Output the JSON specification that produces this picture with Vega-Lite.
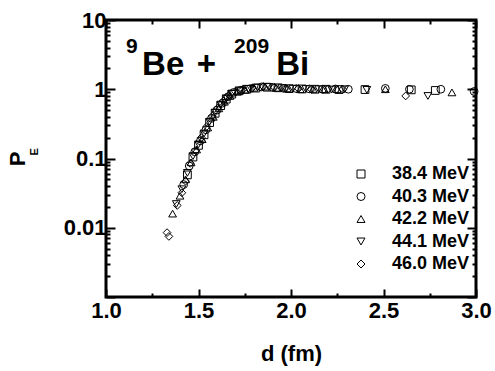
{
  "$schema": "https://vega.github.io/schema/vega-lite/v6.json",
  "width": 370,
  "height": 277,
  "autosize": "none",
  "padding": {"left": 106, "top": 20, "right": 19, "bottom": 74},
  "background": "white",
  "config": {
    "view": {"stroke": "black", "strokeWidth": 3},
    "font": "Liberation Sans",
    "text": {"font": "Liberation Sans", "fontWeight": "bold", "color": "black"},
    "axis": {"domain": false, "grid": false, "ticks": true, "tickColor": "black", "tickWidth": 2, "tickOpacity": 1}
  },
  "datasets": {
    "pe": [
      {"E": "38.4 MeV", "d": 1.44, "P": 0.058},
      {"E": "38.4 MeV", "d": 1.47, "P": 0.105},
      {"E": "38.4 MeV", "d": 1.50, "P": 0.155},
      {"E": "38.4 MeV", "d": 1.53, "P": 0.22},
      {"E": "38.4 MeV", "d": 1.56, "P": 0.33},
      {"E": "38.4 MeV", "d": 1.59, "P": 0.45},
      {"E": "38.4 MeV", "d": 1.62, "P": 0.58},
      {"E": "38.4 MeV", "d": 1.65, "P": 0.72},
      {"E": "38.4 MeV", "d": 1.68, "P": 0.85},
      {"E": "38.4 MeV", "d": 1.72, "P": 0.95},
      {"E": "38.4 MeV", "d": 1.76, "P": 1.0},
      {"E": "38.4 MeV", "d": 1.81, "P": 1.04},
      {"E": "38.4 MeV", "d": 1.87, "P": 1.07},
      {"E": "38.4 MeV", "d": 1.93, "P": 1.05},
      {"E": "38.4 MeV", "d": 1.99, "P": 1.02},
      {"E": "38.4 MeV", "d": 2.06, "P": 1.01},
      {"E": "38.4 MeV", "d": 2.13, "P": 1.0},
      {"E": "38.4 MeV", "d": 2.19, "P": 1.0},
      {"E": "38.4 MeV", "d": 2.26, "P": 0.99},
      {"E": "38.4 MeV", "d": 2.40, "P": 0.99},
      {"E": "38.4 MeV", "d": 2.65, "P": 0.98},
      {"E": "38.4 MeV", "d": 2.78, "P": 0.96},
      {"E": "40.3 MeV", "d": 1.42, "P": 0.042},
      {"E": "40.3 MeV", "d": 1.45, "P": 0.078},
      {"E": "40.3 MeV", "d": 1.48, "P": 0.125},
      {"E": "40.3 MeV", "d": 1.51, "P": 0.18},
      {"E": "40.3 MeV", "d": 1.54, "P": 0.26},
      {"E": "40.3 MeV", "d": 1.57, "P": 0.38},
      {"E": "40.3 MeV", "d": 1.60, "P": 0.50},
      {"E": "40.3 MeV", "d": 1.63, "P": 0.63},
      {"E": "40.3 MeV", "d": 1.66, "P": 0.78},
      {"E": "40.3 MeV", "d": 1.69, "P": 0.90},
      {"E": "40.3 MeV", "d": 1.73, "P": 0.97},
      {"E": "40.3 MeV", "d": 1.78, "P": 1.02},
      {"E": "40.3 MeV", "d": 1.84, "P": 1.08},
      {"E": "40.3 MeV", "d": 1.90, "P": 1.06},
      {"E": "40.3 MeV", "d": 1.96, "P": 1.03},
      {"E": "40.3 MeV", "d": 2.03, "P": 1.02},
      {"E": "40.3 MeV", "d": 2.10, "P": 1.01},
      {"E": "40.3 MeV", "d": 2.17, "P": 1.0},
      {"E": "40.3 MeV", "d": 2.24, "P": 1.01},
      {"E": "40.3 MeV", "d": 2.31, "P": 1.0},
      {"E": "40.3 MeV", "d": 2.51, "P": 1.03},
      {"E": "40.3 MeV", "d": 2.64, "P": 1.0},
      {"E": "40.3 MeV", "d": 2.81, "P": 1.0},
      {"E": "40.3 MeV", "d": 2.99, "P": 0.93},
      {"E": "42.2 MeV", "d": 1.36, "P": 0.016},
      {"E": "42.2 MeV", "d": 1.40, "P": 0.029},
      {"E": "42.2 MeV", "d": 1.43, "P": 0.050},
      {"E": "42.2 MeV", "d": 1.46, "P": 0.088},
      {"E": "42.2 MeV", "d": 1.49, "P": 0.135},
      {"E": "42.2 MeV", "d": 1.52, "P": 0.19},
      {"E": "42.2 MeV", "d": 1.55, "P": 0.28},
      {"E": "42.2 MeV", "d": 1.58, "P": 0.40},
      {"E": "42.2 MeV", "d": 1.61, "P": 0.53},
      {"E": "42.2 MeV", "d": 1.64, "P": 0.66},
      {"E": "42.2 MeV", "d": 1.67, "P": 0.80},
      {"E": "42.2 MeV", "d": 1.71, "P": 0.92},
      {"E": "42.2 MeV", "d": 1.75, "P": 0.98},
      {"E": "42.2 MeV", "d": 1.80, "P": 1.05},
      {"E": "42.2 MeV", "d": 1.86, "P": 1.09},
      {"E": "42.2 MeV", "d": 1.92, "P": 1.05},
      {"E": "42.2 MeV", "d": 1.98, "P": 1.03},
      {"E": "42.2 MeV", "d": 2.05, "P": 1.0},
      {"E": "42.2 MeV", "d": 2.12, "P": 1.01},
      {"E": "42.2 MeV", "d": 2.18, "P": 1.0},
      {"E": "42.2 MeV", "d": 2.25, "P": 1.0},
      {"E": "42.2 MeV", "d": 2.51, "P": 1.0},
      {"E": "42.2 MeV", "d": 2.87, "P": 0.9},
      {"E": "44.1 MeV", "d": 1.38, "P": 0.022},
      {"E": "44.1 MeV", "d": 1.41, "P": 0.036},
      {"E": "44.1 MeV", "d": 1.44, "P": 0.062},
      {"E": "44.1 MeV", "d": 1.47, "P": 0.108},
      {"E": "44.1 MeV", "d": 1.50, "P": 0.16},
      {"E": "44.1 MeV", "d": 1.53, "P": 0.23},
      {"E": "44.1 MeV", "d": 1.56, "P": 0.34},
      {"E": "44.1 MeV", "d": 1.59, "P": 0.46},
      {"E": "44.1 MeV", "d": 1.62, "P": 0.60},
      {"E": "44.1 MeV", "d": 1.65, "P": 0.74},
      {"E": "44.1 MeV", "d": 1.68, "P": 0.86},
      {"E": "44.1 MeV", "d": 1.72, "P": 0.94},
      {"E": "44.1 MeV", "d": 1.77, "P": 1.01},
      {"E": "44.1 MeV", "d": 1.82, "P": 1.06},
      {"E": "44.1 MeV", "d": 1.88, "P": 1.08},
      {"E": "44.1 MeV", "d": 1.95, "P": 1.04},
      {"E": "44.1 MeV", "d": 2.01, "P": 1.02},
      {"E": "44.1 MeV", "d": 2.08, "P": 1.01},
      {"E": "44.1 MeV", "d": 2.15, "P": 1.0},
      {"E": "44.1 MeV", "d": 2.22, "P": 0.99},
      {"E": "44.1 MeV", "d": 2.29, "P": 1.0},
      {"E": "44.1 MeV", "d": 2.41, "P": 0.98},
      {"E": "44.1 MeV", "d": 2.74, "P": 0.80},
      {"E": "46.0 MeV", "d": 1.33, "P": 0.0085},
      {"E": "46.0 MeV", "d": 1.34, "P": 0.0075},
      {"E": "46.0 MeV", "d": 1.385, "P": 0.021},
      {"E": "46.0 MeV", "d": 1.41, "P": 0.032},
      {"E": "46.0 MeV", "d": 1.43, "P": 0.047},
      {"E": "46.0 MeV", "d": 1.455, "P": 0.085},
      {"E": "46.0 MeV", "d": 1.485, "P": 0.13},
      {"E": "46.0 MeV", "d": 1.515, "P": 0.2},
      {"E": "46.0 MeV", "d": 1.545, "P": 0.29},
      {"E": "46.0 MeV", "d": 1.575, "P": 0.41},
      {"E": "46.0 MeV", "d": 1.605, "P": 0.54},
      {"E": "46.0 MeV", "d": 1.635, "P": 0.68},
      {"E": "46.0 MeV", "d": 1.665, "P": 0.82},
      {"E": "46.0 MeV", "d": 1.70, "P": 0.92},
      {"E": "46.0 MeV", "d": 1.74, "P": 0.99},
      {"E": "46.0 MeV", "d": 1.79, "P": 1.04},
      {"E": "46.0 MeV", "d": 1.85, "P": 1.10},
      {"E": "46.0 MeV", "d": 1.91, "P": 1.07},
      {"E": "46.0 MeV", "d": 1.97, "P": 1.04},
      {"E": "46.0 MeV", "d": 2.04, "P": 1.02},
      {"E": "46.0 MeV", "d": 2.11, "P": 1.0},
      {"E": "46.0 MeV", "d": 2.20, "P": 1.01},
      {"E": "46.0 MeV", "d": 2.28, "P": 1.0},
      {"E": "46.0 MeV", "d": 2.62, "P": 0.80}
    ]
  },
  "layer": [
    {
      "data": {"name": "pe"},
      "mark": {"type": "point", "filled": false, "size": 60, "strokeWidth": 1, "opacity": 1, "color": "black"},
      "encoding": {
        "x": {
          "field": "d", "type": "quantitative",
          "scale": {"domain": [1, 3], "nice": false, "zero": false},
          "axis": {
            "orient": "bottom",
            "values": [1, 1.5, 2, 2.5, 3],
            "format": ".1f",
            "tickSize": -8,
            "labelFont": "Liberation Sans",
            "labelFontSize": 22,
            "labelFontWeight": "bold",
            "labelColor": "black",
            "labelPadding": 11,
            "labelFlush": false,
            "title": "d (fm)",
            "titleFont": "Liberation Sans",
            "titleFontSize": 22,
            "titleFontWeight": "bold",
            "titleColor": "black",
            "titlePadding": 22
          }
        },
        "y": {
          "field": "P", "type": "quantitative",
          "scale": {"type": "log", "domain": [0.001, 10], "nice": false},
          "axis": {
            "orient": "left",
            "values": [0.001, 0.01, 0.1, 1, 10],
            "labelExpr": "datum.value == 10 ? '10' : datum.value == 1 ? '1' : datum.value == 0.1 ? '0.1' : datum.value == 0.01 ? '0.01' : ''",
            "tickSize": -9,
            "labelFont": "Liberation Sans",
            "labelFontSize": 22,
            "labelFontWeight": "bold",
            "labelColor": "black",
            "labelPadding": 9,
            "labelFlush": false,
            "title": "P",
            "titleFont": "Liberation Sans",
            "titleFontSize": 22,
            "titleFontWeight": "bold",
            "titleColor": "black",
            "titlePadding": 34
          }
        },
        "shape": {
          "field": "E", "type": "nominal",
          "scale": {
            "domain": ["38.4 MeV", "40.3 MeV", "42.2 MeV", "44.1 MeV", "46.0 MeV"],
            "range": ["square", "circle", "triangle-up", "triangle-down", "diamond"]
          },
          "legend": {
            "title": null,
            "orient": "none",
            "legendX": 246,
            "legendY": 145,
            "padding": 0,
            "labelFont": "Liberation Sans",
            "labelFontSize": 18,
            "labelFontWeight": "bold",
            "labelColor": "black",
            "labelOffset": 22,
            "symbolSize": 64,
            "symbolStrokeColor": "black",
            "symbolStrokeWidth": 1,
            "symbolFillColor": "transparent",
            "rowPadding": 4.5
          }
        }
      }
    },
    {
      "data": {"values": [{}]},
      "mark": {"type": "text", "text": "Be", "fontSize": 33, "align": "left", "baseline": "alphabetic"},
      "encoding": {
        "x": {
          "datum": 1.195, "type": "quantitative",
          "scale": {"domain": [1, 3], "nice": false, "zero": false},
          "axis": {"orient": "top", "values": [1, 1.5, 2, 2.5, 3], "labels": false, "tickSize": -8, "title": null}
        },
        "y": {
          "datum": 1.61, "type": "quantitative",
          "scale": {"type": "log", "domain": [0.001, 10], "nice": false},
          "axis": {"orient": "right", "values": [0.001, 0.01, 0.1, 1, 10], "labels": false, "tickSize": -9, "title": null}
        }
      }
    },
    {
      "data": {"values": [{}]},
      "mark": {"type": "text", "text": "9", "fontSize": 21, "align": "left", "baseline": "alphabetic"},
      "encoding": {
        "x": {
          "datum": 1.108, "type": "quantitative",
          "scale": {"domain": [1, 3], "nice": false, "zero": false},
          "axis": {"orient": "bottom", "values": [1.25, 1.75, 2.25, 2.75], "labels": false, "tickSize": -4, "title": null}
        },
        "y": {
          "datum": 3.34, "type": "quantitative",
          "scale": {"type": "log", "domain": [0.001, 10], "nice": false},
          "axis": {"orient": "left", "values": [0.002, 0.003, 0.004, 0.005, 0.006, 0.007, 0.008, 0.009, 0.02, 0.03, 0.04, 0.05, 0.06, 0.07, 0.08, 0.09, 0.2, 0.3, 0.4, 0.5, 0.6, 0.7, 0.8, 0.9, 2, 3, 4, 5, 6, 7, 8, 9], "labels": false, "tickSize": -4, "title": null}
        }
      }
    },
    {
      "data": {"values": [{}]},
      "mark": {"type": "text", "text": "+", "fontSize": 33, "align": "center", "baseline": "alphabetic"},
      "encoding": {
        "x": {
          "datum": 1.543, "type": "quantitative",
          "scale": {"domain": [1, 3], "nice": false, "zero": false},
          "axis": {"orient": "top", "values": [1.25, 1.75, 2.25, 2.75], "labels": false, "tickSize": -4, "title": null}
        },
        "y": {
          "datum": 1.61, "type": "quantitative",
          "scale": {"type": "log", "domain": [0.001, 10], "nice": false},
          "axis": {"orient": "right", "values": [0.002, 0.003, 0.004, 0.005, 0.006, 0.007, 0.008, 0.009, 0.02, 0.03, 0.04, 0.05, 0.06, 0.07, 0.08, 0.09, 0.2, 0.3, 0.4, 0.5, 0.6, 0.7, 0.8, 0.9, 2, 3, 4, 5, 6, 7, 8, 9], "labels": false, "tickSize": -4, "title": null}
        }
      }
    },
    {
      "data": {"values": [{}]},
      "mark": {"type": "text", "text": "209", "fontSize": 21, "align": "left", "baseline": "alphabetic"},
      "encoding": {
        "x": {"datum": 1.692, "type": "quantitative", "scale": {"domain": [1, 3], "nice": false, "zero": false}, "axis": null},
        "y": {"datum": 3.34, "type": "quantitative", "scale": {"type": "log", "domain": [0.001, 10], "nice": false}, "axis": null}
      }
    },
    {
      "data": {"values": [{}]},
      "mark": {"type": "text", "text": "Bi", "fontSize": 33, "align": "left", "baseline": "alphabetic"},
      "encoding": {
        "x": {"datum": 1.92, "type": "quantitative", "scale": {"domain": [1, 3], "nice": false, "zero": false}, "axis": null},
        "y": {"datum": 1.61, "type": "quantitative", "scale": {"type": "log", "domain": [0.001, 10], "nice": false}, "axis": null}
      }
    },
    {
      "data": {"values": [{}]},
      "mark": {"type": "text", "text": "E", "fontSize": 11, "angle": 270, "align": "center", "baseline": "middle"},
      "encoding": {
        "x": {"datum": 0.616, "type": "quantitative", "scale": {"domain": [1, 3], "nice": false, "zero": false}, "axis": null},
        "y": {"datum": 0.1245, "type": "quantitative", "scale": {"type": "log", "domain": [0.001, 10], "nice": false}, "axis": null}
      }
    }
  ],
  "resolve": {"axis": {"x": "independent", "y": "independent"}}
}
